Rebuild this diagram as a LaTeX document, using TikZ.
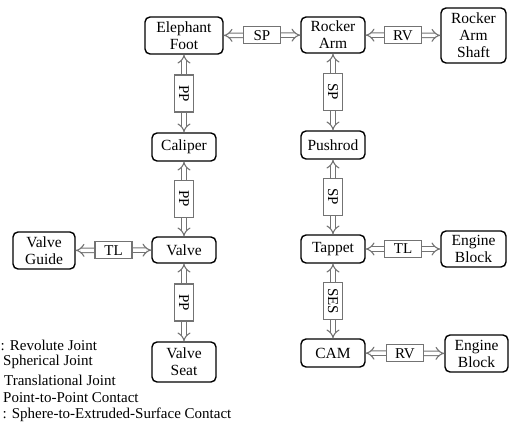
\documentclass[tikz,border=0pt]{standalone}
\usepackage{fontspec}
\setmainfont{Liberation Serif}
\usetikzlibrary{arrows.meta}
\tikzset{
  part/.style={draw, line width=1.4pt, rounded corners=5pt, align=center,
    font=\fontsize{15.5}{17}\selectfont, inner sep=2pt},
  joint/.style={draw=black!55, line width=1.1pt, double=white, double distance=3.4pt,
    {Implies[length=4pt]}-{Implies[length=4pt]}},
  hlabel/.style={draw=black!55, line width=1.1pt, fill=white, minimum width=37pt,
    minimum height=17pt, inner sep=1pt, font=\fontsize{15}{16}\selectfont},
  vlabel/.style={hlabel, rotate=-90, minimum height=19pt},
  legend/.style={anchor=west, inner sep=0pt, font=\fontsize{15}{16}\selectfont}
}
\begin{document}
\begin{tikzpicture}[x=1pt,y=-1pt]
\useasboundingbox (0,0) rectangle (509,423);
\node[part, minimum width=78pt, minimum height=37pt] (ef) at (184,35.5) {Elephant\\Foot};
\node[part, minimum width=64pt, minimum height=36pt] (ra) at (333,35) {Rocker\\Arm};
\node[part, minimum width=65pt, minimum height=55pt] (ras) at (473.5,35.5) {Rocker\\Arm\\Shaft};
\node[part, minimum width=64pt, minimum height=28pt] (cal) at (184,147) {Caliper};
\node[part, minimum width=64pt, minimum height=28pt] (push) at (333,145) {Pushrod};
\node[part, minimum width=62pt, minimum height=37pt] (vg) at (44,250.5) {Valve\\Guide};
\node[part, minimum width=64pt, minimum height=26pt] (valve) at (184,250) {Valve};
\node[part, minimum width=64pt, minimum height=28pt] (tap) at (333,249) {Tappet};
\node[part, minimum width=65pt, minimum height=36pt] (eb1) at (473.5,249) {Engine\\Block};
\node[part, minimum width=64pt, minimum height=40pt] (vs) at (184,362) {Valve\\Seat};
\node[part, minimum width=64pt, minimum height=28pt] (cam) at (333,353) {CAM};
\node[part, minimum width=63pt, minimum height=37pt] (eb2) at (476.5,353.5) {Engine\\Block};
% joints
\path[joint] (ef) -- node[hlabel] {SP} (ra);
\path[joint] (ra) -- node[hlabel] {RV} (ras);
\path[joint] (ef) -- node[vlabel] {PP} (cal);
\path[joint] (cal) -- node[vlabel] {PP} (valve);
\path[joint] (valve) -- node[vlabel] {PP} (vs);
\path[joint] (vg) -- node[hlabel] {TL} (valve);
\path[joint] (ra) -- node[vlabel] {SP} (push);
\path[joint] (push) -- node[vlabel] {SP} (tap);
\path[joint] (tap) -- node[hlabel] {TL} (eb1);
\path[joint] (tap) -- node[vlabel] {SES} (cam);
\path[joint] (cam) -- node[hlabel] {RV} (eb2);
% legend
\node[legend] (l1) at (0.5,345) {: Revolute Joint};
\node[legend] (l2) at (3,362) {Spherical Joint};
\node[legend] (l3) at (4,380) {Translational Joint};
\node[legend] (l4) at (3,398) {Point-to-Point Contact};
\node[legend] (l5) at (2.5,415) {: Sphere-to-Extruded-Surface Contact};
\end{tikzpicture}
\end{document}
